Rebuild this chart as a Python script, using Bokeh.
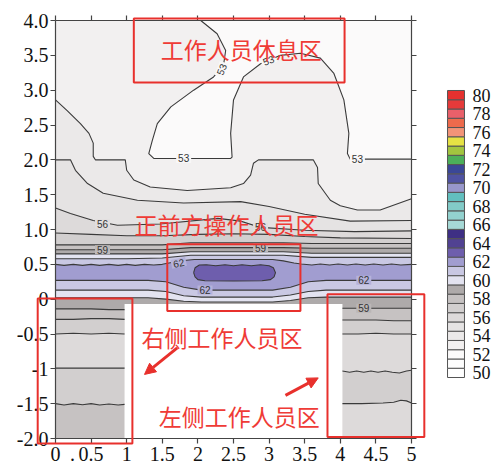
from bokeh.plotting import figure
from bokeh.models import (Range1d, LinearAxis, FixedTicker, Label, BoxAnnotation,
                          Arrow, NormalHead, ColumnDataSource)
from bokeh.core.properties import value
from bokeh.embed import file_html
from bokeh.resources import INLINE

# ---------------- data ----------------
levels = list(range(50, 81))
palette = ["#ffffff", "#fdfdfd", "#fbfafa", "#f2f0f0", "#ebe9e9", "#e5e3e3",
           "#dddada", "#d2cfcf", "#c6c2c2", "#aeaaaa", "#e3e3f0", "#c9c8e3",
           "#a19dd0", "#6e5ead", "#514292", "#3e2f84", "#a6d9d6", "#93d2cf",
           "#82cbc8", "#62bfbf", "#9897cb", "#4f52a2", "#3a4797", "#4caf5a",
           "#a2c53f", "#e6e244", "#f29478", "#ee6a4c", "#e9606a", "#e63a3a",
           "#e5312f"]
cbar_ticks = list(range(50, 81, 2))

x_ticks = [0, 0.5, 1, 1.5, 2, 2.5, 3, 3.5, 4, 4.5, 5]
x_tick_labels = ["0", "0.5", "1", "1.5", "2", "2.5", "3", "3.5", "4", "4.5", "5"]
dot_tick = [0.24]
dot_label = ["."]
y_ticks = [-2, -1.5, -1, -0.5, 0, 0.5, 1, 1.5, 2, 2.5, 3, 3.5, 4]
y_tick_labels = ["-2.0", "-1.5", "-1", "-0.5", "0", "0.5", "1.0", "1.5",
                 "2.0", "2.5", "3.0", "3.5", "4.0"]

# contour 53 (boundary of the rest-area low zone)
c53_x = [2.04, 2.27, 2.39, 2.36, 2.22, 1.94, 1.62, 1.43, 1.36, 1.31, 1.38, 2.46,
         2.48, 2.46, 2.50, 2.64, 2.88, 3.16, 3.44, 3.72, 3.91, 4.05, 4.12, 4.10,
         4.14, 5.0]
c53_y = [4.0, 3.81, 3.57, 3.36, 3.19, 3.0, 2.76, 2.52, 2.28, 2.09, 2.02, 2.02,
         2.04, 2.38, 2.86, 3.19, 3.38, 3.50, 3.53, 3.46, 3.24, 2.86, 2.38, 2.09,
         2.01, 2.01]
c54_x = [0.0, 0.16, 0.35, 0.47, 0.53, 0.53, 0.56, 0.98, 1.0, 1.1, 1.33, 1.85,
         2.46, 2.64, 2.74, 2.78, 2.85, 3.62, 3.68, 3.69, 3.86, 4.0, 4.24, 4.56, 5.0]
c54_y = [2.86, 2.71, 2.52, 2.38, 2.24, 2.05, 2.0, 2.0, 1.85, 1.71, 1.61, 1.56,
         1.60, 1.66, 1.78, 1.95, 2.0, 2.0, 1.89, 1.66, 1.42, 1.34, 1.28, 1.28, 1.44]
c55_x = [0.0, 0.21, 0.28, 0.45, 0.67, 1.15, 1.8, 2.6, 3.0, 3.5, 4.14, 5.0]
c55_y = [2.0, 2.0, 1.85, 1.66, 1.52, 1.42, 1.38, 1.40, 1.33, 1.22, 1.12, 1.13]
c56_x = [0.0, 0.21, 0.53, 0.87, 1.47, 2.28, 2.6, 2.88, 3.5, 4.2, 5.0]
c56_y = [1.31, 1.23, 1.13, 1.06, 1.08, 1.16, 1.12, 1.03, 0.99, 0.97, 0.98]
c57_x = [0.0, 0.5, 1.0, 1.5, 2.0, 2.5, 3.0, 3.5, 4.0, 5.0]
c57_y = [0.95, 0.93, 0.91, 0.91, 0.93, 0.94, 0.93, 0.90, 0.88, 0.87]
cmid_x = [0.0, 1.0, 1.5, 1.9, 3.2, 3.6, 5.0]
c58_y = [0.78, 0.78, 0.78, 0.81, 0.81, 0.80, 0.80]
c59_y = [0.71, 0.71, 0.71, 0.74, 0.74, 0.73, 0.73]
c60_y = [0.65, 0.65, 0.65, 0.68, 0.68, 0.66, 0.66]
c61_y = [0.58, 0.58, 0.59, 0.63, 0.63, 0.60, 0.60]
# upper 62 contour (wavy)
u62_x = [0.0, 0.12, 0.25, 0.38, 0.5, 0.62, 0.75, 0.88, 1.0, 1.12, 1.25, 1.38,
         1.5, 1.65, 1.8, 1.95, 2.5, 3.05, 3.2, 3.35, 3.45, 3.6, 3.72, 3.85,
         3.97, 4.1, 4.22, 4.35, 4.47, 4.6, 4.72, 4.85, 5.0]
u62_y = [0.50, 0.485, 0.50, 0.485, 0.50, 0.485, 0.50, 0.485, 0.50, 0.485, 0.50,
         0.49, 0.50, 0.53, 0.555, 0.57, 0.57, 0.57, 0.55, 0.52, 0.505, 0.49,
         0.505, 0.49, 0.505, 0.49, 0.505, 0.49, 0.505, 0.49, 0.505, 0.49, 0.50]
# lower contours 62, 61, 60
low_x = [0.0, 1.3, 1.55, 1.8, 2.05, 3.05, 3.3, 3.55, 3.8, 5.0]
l62_y = [0.27, 0.27, 0.25, 0.17, 0.13, 0.13, 0.17, 0.25, 0.27, 0.27]
l61_y = [0.13, 0.13, 0.11, 0.05, 0.03, 0.03, 0.06, 0.11, 0.13, 0.13]
l60_y = [0.02, 0.02, 0.0, -0.03, -0.04, -0.04, -0.02, 0.02, 0.03, 0.03]
# 63 core
blob_x = [1.94, 1.96, 2.02, 2.12, 2.25, 2.38, 2.5, 2.62, 2.75, 2.88, 3.0, 3.06,
          3.09, 3.07, 3.02, 2.9, 2.5, 2.1, 2.0, 1.96]
blob_y = [0.38, 0.45, 0.49, 0.495, 0.48, 0.495, 0.48, 0.495, 0.48, 0.495, 0.48,
          0.45, 0.38, 0.32, 0.28, 0.265, 0.26, 0.265, 0.28, 0.32]
# left column (x 0..0.97)
lc_x = [0.0, 0.25, 0.5, 0.75, 0.97]
lc59_y = [-0.14, -0.14, -0.14, -0.15, -0.15]
lc58_y = [-0.29, -0.29, -0.28, -0.28, -0.29]
lc57a_y = [-0.50, -0.49, -0.50, -0.49, -0.50]
lc57b_y = [-0.99, -0.99, -0.99, -0.99, -0.99]
lcw_x = [0.0, 0.12, 0.25, 0.38, 0.5, 0.62, 0.75, 0.88, 0.97]
lc58b_y = [-1.50, -1.52, -1.50, -1.515, -1.50, -1.52, -1.505, -1.52, -1.51]
# right column (x 4.03..5)
rc_x = [4.03, 4.25, 4.5, 4.75, 5.0]
rc59_y = [-0.13, -0.13, -0.13, -0.13, -0.13]
rc58_y = [-0.30, -0.30, -0.30, -0.31, -0.31]
rc57a_y = [-0.50, -0.50, -0.49, -0.50, -0.50]
rcw_x = [4.03, 4.13, 4.23, 4.33, 4.43, 4.53, 4.63, 4.73, 4.83, 4.93, 5.0]
rc57b_y = [-1.03, -1.05, -1.03, -1.05, -1.03, -1.05, -1.03, -1.05, -1.06, -1.03, -1.02]
rcb_x = [4.03, 4.3, 4.6, 4.75, 4.85, 4.93, 5.0]
rc57c_y = [-1.50, -1.50, -1.49, -1.48, -1.45, -1.46, -1.49]
gap_x = [0.97, 4.03]
gap_top = -0.07

# contour labels
lab_x = [2.33, 2.99, 1.80, 4.24, 0.66, 2.88, 0.66, 2.88, 4.33, 1.73, 2.10, 4.33]
lab_y = [3.30, 3.43, 2.02, 2.01, 1.08, 1.03, 0.71, 0.74, -0.13, 0.52, 0.13, 0.27]
lab_t = ["53", "53", "53", "53", "56", "56", "59", "59", "59", "62", "62", "62"]
lab_a = [1.2, 0.40, 0.0, 0.0, 0.0, 0.0, 0.0, 0.0, 0.0, 0.2, 0.0, 0.0]
lab_bg = ["#f8f7f7", "#f8f7f7", "#f8f7f7", "#f8f7f7", "#e1dede", "#e1dede",
          "#bdb9b9", "#bdb9b9", "#bab6b6", "#b5b2da", "#b5b2da", "#b5b2da"]

col = dict(zip(levels, palette))
RED = "#e8302c"
TXT_RED = "#ef3b36"
LINE = "#3a3a3a"
AX = "#444444"
SERIF = "Liberation Serif"


def under(xs, ys):
    return list(xs) + [xs[-1], xs[0]], list(ys) + [-2.0, -2.0]


fills = []
fills.append(([0, 5, 5, 0], [4, 4, -2, -2], col[53]))
fills.append((c53_x + [5.0], c53_y + [4.0], col[52]))
for (xs, ys, lv) in [(c54_x, c54_y, 54), (c55_x, c55_y, 55), (c56_x, c56_y, 56),
                     (c57_x, c57_y, 57), (cmid_x, c58_y, 58), (cmid_x, c59_y, 59),
                     (cmid_x, c60_y, 60), (cmid_x, c61_y, 61)]:
    a, b = under(xs, ys)
    fills.append((a, b, col[lv]))
fills.append((u62_x + low_x[::-1], u62_y + l62_y[::-1], col[62]))
fills.append((blob_x, blob_y, col[63]))
for (xs, ys, lv) in [(low_x, l61_y, 60), (low_x, l60_y, 59),
                     (lc_x, lc59_y, 58), (lc_x, lc58_y, 57), (lc_x, lc57a_y, 56),
                     (lc_x, lc57b_y, 57), (lcw_x, lc58b_y, 58),
                     (rc_x, rc59_y, 58), (rc_x, rc58_y, 57), (rc_x, rc57a_y, 56),
                     (rcw_x, rc57b_y, 57), (rcb_x, rc57c_y, 56)]:
    a, b = under(xs, ys)
    fills.append((a, b, col[lv]))
fills.append(([gap_x[0], gap_x[1], gap_x[1], gap_x[0]],
              [gap_top, gap_top, -2.0, -2.0], "#ffffff"))

lines = [(c53_x, c53_y), (c54_x, c54_y), (c55_x, c55_y), (c56_x, c56_y),
         (c57_x, c57_y), (cmid_x, c58_y), (cmid_x, c59_y), (cmid_x, c60_y),
         (cmid_x, c61_y), (u62_x, u62_y), (low_x, l62_y), (low_x, l61_y),
         (low_x, l60_y), (blob_x + blob_x[:1], blob_y + blob_y[:1]),
         (lc_x, lc59_y), (lc_x, lc58_y), (lc_x, lc57a_y), (lc_x, lc57b_y),
         (lcw_x, lc58b_y), (rc_x, rc59_y), (rc_x, rc58_y), (rc_x, rc57a_y),
         (rcw_x, rc57b_y), (rcb_x, rc57c_y)]

# ---------------- figure (frame spans the whole canvas) ----------------
p = figure(width=496, height=466, title=None,
           x_range=Range1d(-0.7725, 6.1938), y_range=Range1d(-2.4019, 4.2871),
           x_axis_location=None, y_axis_location=None,
           min_border_left=0, min_border_right=0, min_border_top=0,
           min_border_bottom=0, toolbar_location=None, output_backend="svg")
p.extra_y_ranges = {"cbar": Range1d(39.887, 90.221)}
p.background_fill_color = "white"
p.border_fill_color = "white"
p.outline_line_color = None
for g in p.grid:
    g.visible = False

fsrc = ColumnDataSource(dict(xs=[f[0] for f in fills], ys=[f[1] for f in fills],
                             fc=[f[2] for f in fills]))
p.patches("xs", "ys", fill_color="fc", line_color=None, source=fsrc)
p.multi_line([l[0] for l in lines], [l[1] for l in lines], line_color=LINE,
             line_width=1.1)

p.rect(x=lab_x, y=lab_y, width=15, height=9, width_units="screen",
       height_units="screen", angle=lab_a, fill_color=lab_bg, line_color=None)
p.text(x=lab_x, y=lab_y, text=lab_t, angle=lab_a, text_font=value("Liberation Sans"),
       text_font_size="10px", text_align="center", text_baseline="middle",
       text_color="#333333")


def make_axis(ticks, labels, loc, bounds, show_labels, standoff):
    ax = LinearAxis(ticker=FixedTicker(ticks=ticks), fixed_location=loc, bounds=bounds,
                    major_label_overrides=dict(zip(ticks, labels)),
                    major_label_standoff=standoff, major_tick_out=5, major_tick_in=0,
                    minor_tick_out=0, minor_tick_in=0, axis_line_color=AX,
                    major_tick_line_color=AX, axis_line_width=1.2,
                    major_tick_line_width=1.2, major_label_text_font=SERIF,
                    major_label_text_font_size="20px",
                    major_label_text_color="#111111")
    if not show_labels:
        ax.major_label_text_alpha = 0
        ax.major_label_text_font_size = "1px"
    return ax


p.add_layout(make_axis(x_ticks, x_tick_labels, -2, (0, 5), True, 3), "below")
p.add_layout(make_axis(x_ticks, x_tick_labels, 4, (0, 5), False, 0), "above")
p.add_layout(make_axis(y_ticks, y_tick_labels, 0, (-2, 4), True, 2), "left")
p.add_layout(make_axis(y_ticks, y_tick_labels, 5, (-2, 4), False, 0), "right")
dot_axis = make_axis(dot_tick, dot_label, -2, (0, 5), True, 3)
dot_axis.axis_line_color = None
dot_axis.major_tick_line_color = None
p.add_layout(dot_axis, "below")

# red annotation boxes, texts and arrows
for (l, r, t, b) in [(1.10, 4.06, 4.03, 3.11), (1.57, 3.44, 0.79, -0.17),
                     (-0.25, 1.08, 0.01, -2.07), (3.82, 5.18, 0.07, -1.98)]:
    p.add_layout(BoxAnnotation(left=l, right=r, top=t, bottom=b, fill_color=None,
                               fill_alpha=0, line_color=RED, line_alpha=1.0,
                               line_width=2))
for (tx, ty, tt) in [(2.61, 3.59, "工作人员休息区"), (2.40, 1.08, "正前方操作人员区"),
                     (2.34, -0.55, "右侧工作人员区"), (2.58, -1.68, "左侧工作人员区")]:
    p.add_layout(Label(x=tx, y=ty, text=tt, text_align="center", text_baseline="middle",
                       text_font="Noto Sans CJK SC", text_font_size="23px",
                       text_color=TXT_RED))
for (x0, y0, x1, y1) in [(1.71, -0.70, 1.25, -1.08), (3.23, -1.38, 3.69, -1.13)]:
    p.add_layout(Arrow(end=NormalHead(size=11, fill_color=RED, line_color=RED,
                                      line_width=1),
                       x_start=x0, y_start=y0, x_end=x1, y_end=y1,
                       line_color=RED, line_width=3))

# ---------------- colour bar (second y scale) ----------------
p.quad(left=5.506, right=5.744, bottom=[v - 0.5 for v in levels],
       top=[v + 0.5 for v in levels], y_range_name="cbar",
       fill_color=palette, line_color="#555555", line_width=1)
cax = LinearAxis(y_range_name="cbar", fixed_location=5.744, bounds=(49.5, 80.5),
                 ticker=FixedTicker(ticks=cbar_ticks), axis_line_color=None,
                 major_tick_line_color=None, minor_tick_line_color=None,
                 major_label_standoff=2, major_label_text_font=SERIF,
                 major_label_text_font_size="18px", major_label_text_color="#111111")
p.add_layout(cax, "right")

open("out.html", "w").write(file_html(p, INLINE))
